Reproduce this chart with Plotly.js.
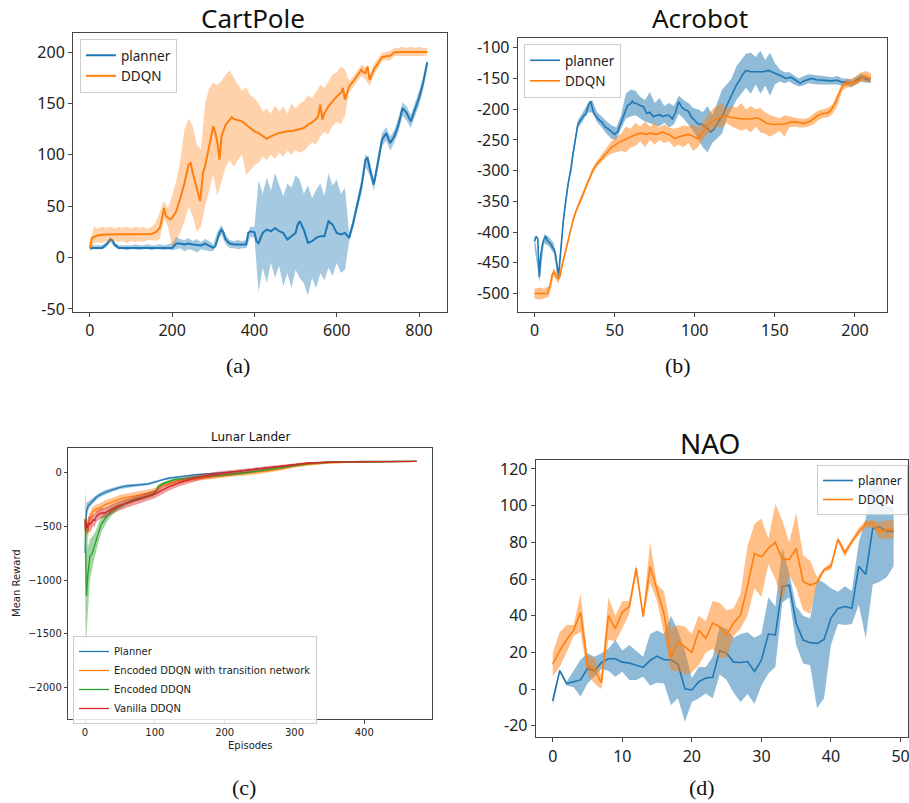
<!DOCTYPE html>
<html>
<head>
<meta charset="utf-8">
<script src="https://cdn.plot.ly/plotly-3.0.1.min.js"></script>
<style>html,body{margin:0;padding:0;background:#fff;}#chart{width:909px;height:803px;}</style>
</head>
<body>
<div id="chart"></div>
<script>
// ---------------- (a) CartPole ----------------
const cpPlannerX = [0,10,20,30,40,50,55,60,70,80,100,120,140,160,180,200,210,220,230,240,250,260,270,280,290,300,305,315,320,325,330,340,350,360,370,380,385,390,400,405,410,420,430,440,450,460,470,480,490,500,505,510,520,530,540,550,560,570,580,590,600,610,620,630,640,650,660,670,675,680,690,700,710,720,730,740,750,760,770,780,790,800,810,820];
const cpPlanner = [9.4,9.4,9.4,9.4,12.6,17.4,16.8,12.6,9.4,9.4,9.4,9.4,9.4,9.4,9.4,9.4,13.6,13.6,12.6,13.6,12.6,12.3,11.7,13.6,11.7,9.4,11,24,27.2,24,17.5,13.6,12.6,12.6,12.6,12.6,24,25.6,24.6,15.9,14,24,27.2,25.6,28.8,25.6,24,17.5,20.8,24,32,35.3,27.2,14.3,15.9,19.1,20.8,20.8,35.3,32,24,22.4,24,19.1,33.7,53,69.3,95.2,96.9,87.2,71,92,114.7,121,111.4,118,129.2,145.5,140.6,132.5,143.8,155.2,169.8,189.9];
const cpDdqnX = [0,5,10,20,40,60,80,100,120,140,150,160,170,175,180,185,190,195,200,210,220,230,240,245,250,260,268,275,280,290,300,305,310,315,320,330,340,345,350,360,370,380,390,400,410,420,430,440,450,460,470,480,490,500,510,520,530,540,550,555,560,565,570,580,590,600,610,615,620,625,630,640,650,660,665,670,675,680,690,700,710,720,730,740,750,760,780,800,820];
const cpDdqn = [9.4,19,20,21.7,22.3,22.3,22.3,22.3,22.3,22.3,23,24.6,28.8,37,48.3,40.2,38.6,37,38.6,45,58,72.6,90.5,92,82.4,66,55,82.4,88.9,108.3,127.8,121.3,111.5,95.3,118,129.3,134.8,136.5,134.8,133.5,132.5,129.3,126,122.8,121,118,115.5,118,119.6,121.3,121.9,122.8,122.8,123.8,124.5,126,129.3,131.6,134.8,137.4,148.7,134.2,140.6,147.1,152,156.8,160.1,165,153.6,160,166.5,171.3,176.9,182.8,180.2,179.5,186,173,182.8,189.3,195,195.8,196.4,199.7,200,200,200,200,200];
const cpBandX = [
  0,10,20,30,40,50,60,70,80,90,
  100,110,120,130,140,150,160,170,180,190,
  200,210,220,230,240,250,260,270,280,290,
  300,310,320,330,340,350,360,370,380,390,
  400,410,420,430,440,450,460,470,480,490,
  500,510,520,530,540,550,560,570,580,590,
  600,610,620,630,640,650,660,670,680,690,
  700,710,720,730,740,750,760,770,780,790,
  800,810,820];
const cpPlannerHi = [
  12,12,12,12,15,20,15,12,12,12,
  12,13,12,12,13,12,12,13,12,13,
  14,20,18,17,19,16,18,15,18,16,
  13,25,32,22,17,16,17,16,17,30,
  30,75,62,78,65,82,70,60,72,68,
  80,76,62,70,58,66,72,60,82,70,
  76,62,68,24,39,59,76,101,94,77,
  99,121,127,118,124,136,151,147,139,150,
  162,176,194];
const cpPlannerLo = [
  7,8,8,8,10,15,10,8,8,7,
  8,8,7,8,8,7,8,8,7,8,
  7,8,9,6,8,7,5,8,7,6,
  6,18,22,13,9,9,8,9,9,20,
  19,-34,-10,-25,-5,-20,-8,-28,-15,-30,
  -12,-20,-25,-37,-20,-30,-15,-22,-10,-18,
  -5,-15,-12,15,28,47,62,88,80,65,
  85,108,114,104,112,122,138,133,126,137,
  148,163,185];
const cpDdqnHi = [
  15,30,28,30,29,30,28,30,29,30,
  28,30,29,30,28,30,34,45,55,48,
  60,75,95,125,135,128,110,105,150,165,
  170,168,172,178,182,175,168,162,166,158,
  155,150,142,145,140,148,142,147,140,150,
  145,150,152,158,155,162,168,165,172,178,
  180,186,183,172,176,182,188,185,178,188,
  194,199,200,201,204,204,205,204,205,204,
  205,204,204];
const cpDdqnLo = [
  5,14,15,14,16,15,16,15,16,14,
  16,15,16,15,17,17,16,18,38,30,
  10,15,25,35,50,40,25,30,50,65,
  80,60,75,88,95,88,95,100,80,85,
  90,92,98,95,100,96,102,98,104,100,
  105,102,104,108,112,110,118,122,120,128,
  132,130,138,160,166,171,177,173,167,177,
  184,191,192,192,196,196,196,196,196,196,
  196,196,197];
const cpYTickVals = [200,150,100,50,0,-50];
const cpYTickText = ["200","150","100","50","0","-50"];
const cpXTickVals = [0,200,400,600,800];

// ---------------- (b) Acrobot ----------------
const abPlannerX = [0,1,2,3,4,5,6,7,8,9,10,11,12,13,14,15,16,17,18,19,20,21,22,23,24,25,26,27,28,29,30,31,32,33,34,35,36,37,38,39,40,
  42,44,46,48,50,52,54,56,58,60,
  61,62,64,66,68,70,72,74,76,78,80,82,84,86,88,90,92,94,96,98,100,102,104,
  107,110,112,114,116,118,120,122,124,126,128,130,132,
  135,137,140,143,146,148,151,154,157,160,163,166,168,170,173,176,179,182,185,189,192,195,198,201,204,206,209];
const abPlanner = [-415,-407,-411,-473,-435,-419,-411,-407,-414,-416,
  -419,-424,-427,-434,-452,-472,-441,-408,-381,-359,
  -338,-321,-308,-294,-273,-254,-237,-225,-221,-216,
  -213,-210,-209,-199,-191,-187,-197,-207,-210,-213,-217,
  -221,-229,-232,-237,-241,-236,-221,-207,-194,-191,
  -187,-190,-191,-194,-196,-207,-205,-212,-210,-209,-212,-210,-210,-216,-205,-188,-197,-201,-203,-213,-218,-224,-224,
  -229,-237,-233,-224,-216,-207,-194,-183,-172,-161,-153,-143,-137,
  -139,-139,-139,-139,-137,-139,-142,-146,-150,-148,-153,-158,-154,-152,-150,-152,-153,-154,-154,-153,-156,-156,-158,-153,-148,-150,-153];
const abDdqnX = [0,2,4,6,8,
  10,11,12,13,14,15,16,17,18,19,20,
  22,24,26,28,30,32,34,36,38,40,
  42,44,46,48,50,52,54,56,58,60,
  62,64,66,68,70,72,74,76,78,80,
  82,84,86,88,90,92,94,96,98,100,
  102,104,
  108,112,116,119,122,126,130,135,139,142,145,149,153,156,160,164,168,171,174,177,180,183,185,188,190,192,194,197,200,203,206,208,210];
const abDdqn = [-500,-500,-500,-500,-500,
  -484,-469,-465,-471,-474,-476,-471,-457,-446,-433,-422,
  -403,-381,-365,-351,-340,-327,-313,-302,-292,-286,
  -279,-273,-267,-262,-259,-255,-252,-250,-247,-245,
  -243,-241,-239,-240,-241,-239,-240,-241,-239,-237,
  -240,-241,-245,-248,-245,-244,-243,-241,-243,-245,
  -248,-242,
  -226,-218,-213,-210,-213,-214,-216,-216,-214,-218,-223,-225,-225,-224,-221,-221,-223,-221,-216,-210,-207,-206,-202,-188,-175,-164,-158,-158,-156,-153,-146,-148,-150];
const abBandX = [
  0,3,6,9,12,15,18,21,24,27,
  30,33,36,39,42,45,48,51,54,57,
  60,63,66,69,72,75,78,81,84,87,
  90,93,96,99,102,105,108,111,114,117,
  120,123,126,129,132,135,138,141,144,147,
  150,153,156,159,162,165,168,171,174,177,
  180,183,186,189,192,195,198,201,204,207,
  210];
const abPlannerHi = [
  -405,-460,-403,-408,-418,-462,-373,-314,-266,-218,
  -206,-192,-185,-205,-212,-220,-226,-230,-210,-175,
  -168,-170,-180,-185,-172,-190,-182,-195,-190,-195,
  -178,-185,-190,-198,-200,-205,-195,-210,-190,-168,
  -160,-150,-130,-120,-110,-108,-115,-105,-120,-108,
  -125,-135,-140,-140,-145,-150,-146,-143,-144,-145,
  -146,-147,-148,-146,-150,-150,-152,-147,-142,-146,
  -149];
const abPlannerLo = [
  -425,-480,-418,-423,-435,-480,-389,-328,-280,-232,
  -220,-206,-205,-221,-230,-240,-248,-250,-232,-215,
  -212,-210,-215,-220,-222,-225,-228,-222,-230,-225,
  -208,-215,-225,-235,-248,-262,-270,-255,-248,-240,
  -215,-200,-185,-175,-165,-175,-160,-175,-162,-178,
  -160,-155,-158,-155,-160,-163,-161,-158,-159,-160,
  -160,-161,-160,-160,-162,-162,-164,-160,-155,-157,
  -157];
const abDdqnHi = [
  -492,-490,-492,-488,-458,-468,-440,-408,-376,-354,
  -334,-316,-297,-284,-274,-262,-252,-245,-240,-228,
  -232,-222,-228,-220,-228,-222,-230,-225,-230,-232,
  -230,-226,-228,-225,-230,-222,-210,-200,-195,-190,
  -200,-195,-198,-190,-200,-195,-200,-198,-205,-210,
  -212,-215,-210,-212,-214,-215,-216,-214,-208,-202,
  -200,-198,-192,-176,-158,-152,-150,-146,-140,-138,
  -142];
const abDdqnLo = [
  -508,-510,-508,-505,-472,-484,-452,-418,-386,-362,
  -346,-325,-307,-294,-285,-278,-272,-270,-268,-270,
  -262,-260,-252,-262,-250,-258,-250,-255,-252,-262,
  -258,-262,-255,-268,-262,-250,-240,-235,-228,-230,
  -222,-228,-232,-235,-232,-238,-228,-238,-240,-245,
  -240,-235,-245,-230,-228,-230,-230,-228,-225,-218,
  -214,-213,-208,-195,-170,-165,-164,-160,-155,-155,
  -157];
const abYTickVals = [-100,-150,-200,-250,-300,-350,-400,-450,-500];
const abYTickText = ["-100","-150","-200","-250","-300","-350","-400","-450","-500"];
const abXTickVals = [0,50,100,150,200];

// ---------------- (c) Lunar Lander ----------------
const llPlannerX = [0,1,2,4,6,10,15,20,30,40,50,60,70,80,90,100,110,120,130,140,150,160,180,200,220,240,260,280,300,320,350,400,475];
const llPlanner = [-748,-453,-360,-314,-298,-267,-236,-211,-180,-158,-137,-124,-118,-112,-106,-87,-65,-50,-43,-34,-25,-19,-9,0,12,28,43,60,75,88,98,104,105];
const llPlannerHi = [-700,-300,-280,-270,-265,-240,-212,-190,-160,-140,-122,-110,-105,-100,-95,-76,-55,-40,-34,-26,-17,-11,-2,7,19,35,50,67,81,93,102,107,108];
const llPlannerLo = [-790,-600,-440,-360,-330,-294,-260,-232,-200,-176,-152,-138,-131,-124,-117,-98,-75,-60,-52,-42,-33,-27,-16,-7,5,21,36,53,69,83,94,101,102];
const llEncTrX = [0,2,4,6,8,10,15,20,30,40,50,60,70,80,90,100,105,110,120,130,140,150,165,180,200,220,240,260,280,300,320,350,400,475];
const llEncTr = [-450,-480,-560,-430,-400,-370,-340,-329,-295,-267,-245,-230,-218,-205,-192,-174,-150,-118,-100,-81,-72,-65,-55,-43,-25,-12,-3,15,35,62,78,92,102,105];
const llEncTrHi = [-400,-420,-480,-380,-355,-325,-300,-290,-255,-228,-207,-193,-183,-170,-158,-142,-120,-95,-80,-62,-53,-46,-36,-25,-8,5,14,32,52,78,92,102,107,108];
const llEncTrLo = [-500,-560,-640,-500,-450,-420,-385,-370,-335,-305,-283,-267,-253,-240,-226,-206,-180,-141,-120,-100,-91,-84,-74,-62,-44,-30,-22,-4,17,45,64,82,97,102];
const llEncX = [0,1,2,4,7,10,14,19,23,31,38,47,59,71,85,97,100,105,114,128,147,167,190,214,238,260,280,300,320,350,400,475];
const llEnc = [-430,-1150,-1150,-950,-780,-758,-671,-562,-484,-407,-360,-323,-283,-252,-230,-205,-190,-127,-96,-65,-50,-34,-25,-12,6,25,45,68,85,97,103,105];
const llEncHi = [-150,-300,-500,-700,-620,-600,-560,-470,-410,-350,-320,-295,-262,-233,-212,-188,-172,-112,-82,-52,-37,-22,-13,0,18,37,57,80,95,104,108,108];
const llEncLo = [-1000,-1650,-1500,-1300,-1000,-900,-780,-650,-560,-460,-400,-350,-304,-271,-248,-222,-208,-142,-110,-78,-63,-46,-37,-24,-6,13,33,56,75,90,98,102];
const llVanX = [0,0.5,2,3,5,7,9,11.5,14,16,19,21,23,28,33,40,47,59,71,85,100,109,119,133,147,167,190,214,238,260,280,300,320,350,400,475];
const llVan = [-438,-531,-469,-515,-469,-484,-469,-438,-447,-407,-391,-385,-376,-376,-360,-335,-312,-285,-260,-230,-200,-168,-135,-100,-70,-38,-10,10,28,43,60,78,90,98,103,105];
const llVanHi = [-380,-470,-410,-450,-400,-420,-400,-380,-390,-355,-340,-335,-328,-330,-315,-290,-268,-242,-218,-190,-162,-132,-100,-68,-40,-12,12,28,44,57,73,90,100,105,107,108];
const llVanLo = [-500,-590,-530,-580,-540,-560,-540,-500,-505,-460,-445,-438,-425,-422,-405,-380,-356,-328,-302,-270,-238,-204,-170,-132,-100,-64,-32,-8,12,29,47,66,80,91,99,102];
const llYTickVals = [0,-500,-1000,-1500,-2000];
const llXTickVals = [0,100,200,300,400];

// ---------------- (d) NAO ----------------
const naoX = [0,1,2,3,4,5,6,7,8,9,10,11,12,13,14,15,16,17,18,19,20,21,22,23,24,25,26,27,28,29,30,31,32,33,34,35,36,37,38,39,40,41,42,43,44,45,46,47,48,49];
const naoPlanner = [-6.5,10,3,4,5,11.3,9.8,14.5,16.5,16.5,14.7,14.2,13.1,11.8,15.6,18,16,16,13.6,0.2,-0.5,4,6,6.4,21,19.5,14.7,14.5,15,9.6,15.8,30,29.5,56,56.7,35.8,26.7,25.3,24.9,27,38.7,44,45,44,67,62.5,87.6,88.5,86,86];
const naoPlannerHi = [-4,11,4,10,16,19.5,17.6,19.5,22,26.7,21,24,21,17.6,30,32,30,40,32,21,6,12,12,17.6,34,33,28,30,31,28,30,50,45,77,63,45,40,38.5,60,58,55,53,56,53.5,80,93,120,118,100,99];
const naoPlannerLo = [-9,9,2,1,-4,3,6.7,11,10,6.7,9.5,5,5,6.7,2,3.5,3,-8.7,-5,-17.8,-7,-5,-2.4,-5,8,5,-2,-7,-2.7,-8,2,8.5,12,47,50,24,14,13,-10.5,-5,24,35.5,35,35.5,46,27.6,57,58.5,61,67];
const naoDdqn = [13.6,21,27,32,42,13,10.4,3.5,40,33,42,45,66,39.5,67,54,41,17.3,26,23,20,32,27.6,36,34,29.5,36,40.4,56,74,72,76.7,80,70.7,70.7,76.7,58.5,56.7,58,65,67,81.6,74.4,80.4,85.8,90,90.4,85.8,87,87];
const naoDdqnHi = [20,31,35,35,52,18,17,7,50,40,48,48,68,42,80,57,53,33,35,34,30,40,37,48,47,43,44,52,78,90,93,82,101,92,80,96,73,70,61,66,69,83,76,82,88,92,92,91,92,92];
const naoDdqnLo = [7,12,20,29,31,8,3,0,27,26,33,41,62,38,58,48,30,10,10,8,9,13,20,22,17,17,29,33,40,55,50,68,60,47,62,55,43,41,57,64,65,80,72,79,84,88,88,82,82,82];
const naoYTickVals = [120,100,80,60,40,20,0,-20];
const naoYTickText = ["120","100","80","60","40","20","0","-20"];
const naoXTickVals = [0,10,20,30,40,50];

// ---------------- colours ----------------
const C_BLUE = '#1f77b4', C_ORANGE = '#ff7f0e', C_GREEN = '#2ca02c', C_RED = '#d62728';
function rgba(hex, a){const n=parseInt(hex.slice(1),16);return `rgba(${(n>>16)&255},${(n>>8)&255},${n&255},${a})`;}

function band(x, lo, hi, color, alpha, ax){
  return {x: x.concat(x.slice().reverse()), y: hi.concat(lo.slice().reverse()),
    type:'scatter', mode:'lines', fill:'toself', fillcolor: rgba(color, alpha),
    line:{width:0, color: rgba(color, 0)}, hoverinfo:'skip', showlegend:false,
    xaxis:'x'+ax, yaxis:'y'+ax};
}
function line(x, y, name, color, width, ax, legend){
  return {x:x, y:y, name:name, type:'scatter', mode:'lines',
    line:{color:color, width:width}, xaxis:'x'+ax, yaxis:'y'+ax, legend:legend};
}

const traces = [
  band(cpBandX, cpPlannerLo, cpPlannerHi, C_BLUE, 0.4, ''),
  line(cpPlannerX, cpPlanner, 'planner', C_BLUE, 2, '', 'legend'),
  band(cpBandX, cpDdqnLo, cpDdqnHi, C_ORANGE, 0.35, ''),
  line(cpDdqnX, cpDdqn, 'DDQN', C_ORANGE, 2, '', 'legend'),

  band(abBandX, abPlannerLo, abPlannerHi, C_BLUE, 0.5, '2'),
  line(abPlannerX, abPlanner, 'planner', C_BLUE, 1.6, '2', 'legend2'),
  band(abBandX, abDdqnLo, abDdqnHi, C_ORANGE, 0.5, '2'),
  line(abDdqnX, abDdqn, 'DDQN', C_ORANGE, 1.6, '2', 'legend2'),

  band(llPlannerX, llPlannerLo, llPlannerHi, C_BLUE, 0.45, '3'),
  line(llPlannerX, llPlanner, 'Planner', C_BLUE, 1.3, '3', 'legend3'),
  band(llEncTrX, llEncTrLo, llEncTrHi, C_ORANGE, 0.45, '3'),
  line(llEncTrX, llEncTr, 'Encoded DDQN with transition network', C_ORANGE, 1.3, '3', 'legend3'),
  band(llEncX, llEncLo, llEncHi, C_GREEN, 0.45, '3'),
  line(llEncX, llEnc, 'Encoded DDQN', C_GREEN, 1.3, '3', 'legend3'),
  band(llVanX, llVanLo, llVanHi, C_RED, 0.45, '3'),
  line(llVanX, llVan, 'Vanilla DDQN', C_RED, 1.3, '3', 'legend3'),

  band(naoX, naoPlannerLo, naoPlannerHi, C_BLUE, 0.5, '4'),
  line(naoX, naoPlanner, 'planner', C_BLUE, 1.6, '4', 'legend4'),
  band(naoX, naoDdqnLo, naoDdqnHi, C_ORANGE, 0.5, '4'),
  line(naoX, naoDdqn, 'DDQN', C_ORANGE, 1.6, '4', 'legend4')
];

const W = 909, H = 803;
const px = v => v / W, py = v => 1 - v / H;
const tickFont = {family:'Noto Sans, Open Sans, sans-serif', size:16, color:'#222'};
const smallFont = {family:'DejaVu Sans, sans-serif', size:10, color:'#222'};
function axis(extra){
  return Object.assign({showline:true, mirror:true, linecolor:'#444', linewidth:1,
    ticks:'outside', ticklen:4, tickwidth:1, tickcolor:'#444', showgrid:false, zeroline:false,
    tickmode:'array', tickfont:tickFont, fixedrange:true, ticklabeloverflow:'allow'}, extra);
}
function legendBox(x, y, size, xanchor){
  return {x:x, y:y, xanchor:xanchor||'left', yanchor:'top', xref:'paper', yref:'paper',
    bgcolor:'rgba(255,255,255,0.85)', bordercolor:'#cccccc', borderwidth:1,
    font:{family:'Noto Sans, Open Sans, sans-serif', size:size, color:'#222'}};
}
function ann(text, x, y, font, extra){
  return Object.assign({text:text, x:x, y:y, xref:'paper', yref:'paper', showarrow:false,
    xanchor:'center', yanchor:'middle', font:font}, extra||{});
}
const titleFont = s => ({family:'Noto Sans, Open Sans, sans-serif', size:s, color:'#111'});
const capFont = {family:'Liberation Serif, DejaVu Serif, serif', size:22, color:'#111'};

const layout = {
  width:W, height:H, margin:{l:0, r:0, t:0, b:0},
  paper_bgcolor:'#fff', plot_bgcolor:'#fff', showlegend:true,
  xaxis: axis({domain:[px(73), px(447)], range:[-41, 868], tickvals:cpXTickVals, anchor:'y'}),
  yaxis: axis({domain:[py(312), py(33)], range:[-53, 218.5], tickvals:cpYTickVals, ticktext:cpYTickText, anchor:'x'}),
  xaxis2: axis({domain:[px(517.7), px(887)], range:[-10.5, 220], tickvals:abXTickVals, anchor:'y2'}),
  yaxis2: axis({domain:[py(312), py(37.7)], range:[-530, -83.7], tickvals:abYTickVals, ticktext:abYTickText, anchor:'x2'}),
  xaxis3: axis({domain:[px(68.3), px(432.3)], range:[-24, 497.4], tickvals:llXTickVals, anchor:'y3', tickfont:smallFont, ticklen:3.5}),
  yaxis3: axis({domain:[py(719), py(448.3)], range:[-2295, 227], tickvals:llYTickVals, anchor:'x3', tickfont:smallFont, ticklen:3.5}),
  xaxis4: axis({domain:[px(535.7), px(907.5)], range:[-2.45, 51], tickvals:naoXTickVals, anchor:'y4'}),
  yaxis4: axis({domain:[py(737.3), py(460)], range:[-26.3, 124.9], tickvals:naoYTickVals, ticktext:naoYTickText, anchor:'x4'}),
  legend: legendBox(px(80), py(39), 13.5),
  legend2: legendBox(px(524), py(44), 13.5),
  legend3: Object.assign(legendBox(px(73), py(636), 10), {font:{family:'DejaVu Sans, sans-serif', size:10, color:'#222'}}),
  legend4: legendBox(px(817), py(465), 12),
  annotations: [
    ann('CartPole', px(253), py(18), titleFont(26)),
    ann('Acrobot', px(700), py(18), titleFont(26)),
    ann('Lunar Lander', px(250), py(437), {family:'DejaVu Sans, sans-serif', size:12, color:'#111'}),
    ann('NAO', px(710), py(443), titleFont(28)),
    ann('Mean Reward', px(16), py(583), smallFont, {textangle:-90}),
    ann('Episodes', px(250), py(745), smallFont),
    ann('(a)', px(238), py(365), capFont),
    ann('(b)', px(678), py(365), capFont),
    ann('(c)', px(244), py(787), capFont),
    ann('(d)', px(702), py(787), capFont)
  ]
};

Plotly.newPlot('chart', traces, layout, {staticPlot:true, displayModeBar:false});
</script>
</body>
</html>
